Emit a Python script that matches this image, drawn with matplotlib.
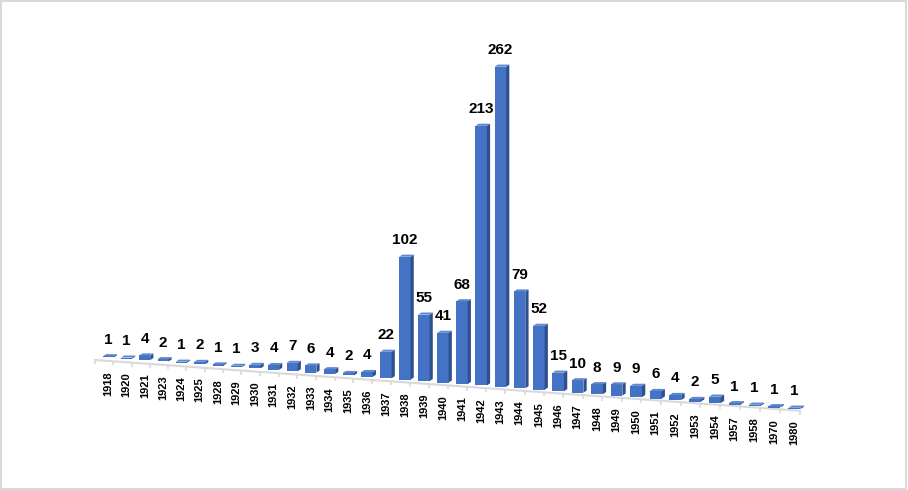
import numpy as np
import matplotlib
matplotlib.use("Agg")
import matplotlib.pyplot as plt
from matplotlib.patches import Rectangle

plt.rcParams['font.family'] = ['Liberation Sans', 'DejaVu Sans']

# data
years = ['1918', '1920', '1921', '1923', '1924', '1925', '1928', '1929', '1930',
         '1931', '1932', '1933', '1934', '1935', '1936', '1937', '1938', '1939',
         '1940', '1941', '1942', '1943', '1944', '1945', '1946', '1947', '1948',
         '1949', '1950', '1951', '1952', '1953', '1954', '1957', '1958', '1970',
         '1980']
counts = [1, 1, 4, 2, 1, 2, 1, 1, 3, 4, 7, 6, 4, 2, 4, 22, 102, 55, 41, 68,
          213, 262, 79, 52, 15, 10, 8, 9, 9, 6, 4, 2, 5, 1, 1, 1, 1]

FRONT = '#4472C4'
SIDE = '#2F5090'
TOP = '#5E87D2'
GRID = '#D9D9D9'

fig = plt.figure(figsize=(9.08, 4.9), dpi=100)
ax = fig.add_axes([0, 0, 1, 1])
ax.set_xlim(0, 908)
ax.set_ylim(490, 0)
ax.axis('off')

# fake 3d perspective: spacing grows slowly to the right
n = len(years)
idx = np.arange(n)
xc = 108.5 + 18.10 * idx + 0.0265 * idx ** 2
step = 18.10 + 0.053 * idx
base = 357.3 + 0.0754 * (xc - 108.5)
scale = 0.0636 * step
vals = np.array(counts, dtype=float)
h = vals * scale
wf = 0.6 * step
dx = 0.17 * step
dy = 0.11 * step

# floor front edge with ticks
def line_y(x):
    return 360.0 + 0.072 * (x - 95)

x0 = xc[0] - 0.75 * step[0]
ticks = np.concatenate([[x0], xc + 0.27 * step])
ax.plot([x0, ticks[-1]], [line_y(x0), line_y(ticks[-1])], color=GRID, lw=1.5, zorder=1)
ax.vlines(ticks, line_y(ticks), line_y(ticks) + 4, color=GRID, lw=1.2, zorder=1)

ax.bar(xc, -h, bottom=base, width=wf, color=FRONT, linewidth=0, zorder=3)
for i in range(n):
    xl = xc[i] - wf[i] / 2
    xr = xc[i] + wf[i] / 2
    top = base[i] - h[i]
    ax.fill([xr, xr + dx[i], xr + dx[i], xr],
            [base[i], base[i] - dy[i], top - dy[i], top], color=SIDE, lw=0, zorder=3)
    ax.fill([xl, xr, xr + dx[i], xl + dx[i]],
            [top, top, top - dy[i], top - dy[i]], color=TOP, lw=0, zorder=3)
    ax.text(xc[i], top - dy[i] - 10.5, str(counts[i]), ha='center', va='baseline',
            fontsize=11, fontweight='bold', color='black', zorder=4)
    ax.text(xc[i], line_y(xc[i]) + 10, years[i], rotation=90, ha='center', va='top',
            fontsize=8, fontweight='bold', color='black', zorder=4)

fig.patches.append(Rectangle((0.001, 0.003), 0.997, 0.995, transform=fig.transFigure,
                             fill=False, edgecolor=GRID, lw=1.5))

fig.savefig('out.png', dpi=100)
